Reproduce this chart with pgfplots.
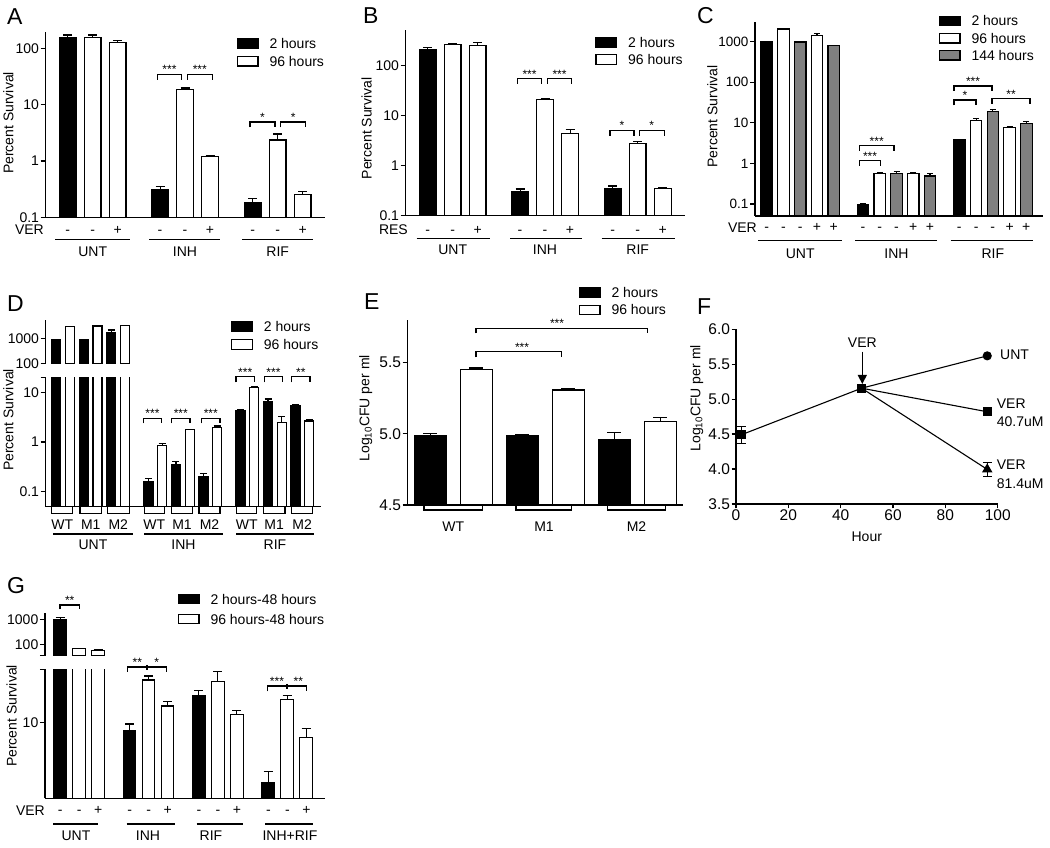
\documentclass[border=0pt]{standalone}
\usepackage{fontspec}
\setmainfont{Liberation Sans}
\usepackage{pgfplots}
\pgfplotsset{compat=1.18}
\usetikzlibrary{arrows.meta}
\definecolor{gry}{RGB}{128,128,128}

\pgfplotsset{
  panel/.style={anchor=south west, scale only axis,
    axis x line*=bottom, axis y line*=left,
    axis line style={line width=1.4pt,-},
    xtick=\empty, tick align=outside, major tick length=5pt,
    tick style={line width=1.3pt,black},
    yticklabel style={font=\fontsize{14}{16}\selectfont, inner sep=1.5pt},
    yminorticks=false, xminorticks=false},
  eb/.style={error bars/y dir=plus, error bars/y explicit,
    error bars/error bar style={line width=1.2pt,black},
    error bars/error mark options={rotate=90, line width=1.2pt, black, mark size=#1}},
  eb/.default=4.5pt,
  bk/.style={ybar, bar shift=0pt, draw=black, line width=1.2pt, fill=black},
  wt/.style={ybar, bar shift=0pt, draw=black, line width=1.2pt, fill=white},
  gr/.style={ybar, bar shift=0pt, draw=black, line width=1.2pt, fill=gry},
}

% annotation helpers, pixel coordinates (y down)
\newcommand{\brk}[4]{\draw[line width=1.1pt] (#1,#4)--(#1,#3)--(#2,#3)--(#2,#4);}
\newcommand{\ubrk}[4]{\draw[line width=1.1pt] (#1,#3)--(#1,#4)--(#2,#4)--(#2,#3);}
\newcommand{\sig}[3]{\node[anchor=base,inner sep=0,font=\fontsize{12}{12}\selectfont] at (#1,#2-0.5) {#3};}
\newcommand{\leg}[4]{\draw[line width=1.1pt,fill=#3] (#1,#2-4.75) rectangle (#1+20.7,#2+4.75);
  \node[anchor=base west,inner sep=0] at (#1+32,#2+5) {#4};}
\newcommand{\lab}[3]{\node[anchor=base,inner sep=0] at (#1,#2) {#3};}
\newcommand{\hl}[3]{\draw[line width=1.1pt] (#1,#3)--(#2,#3);}
\newcommand{\letter}[3]{\node[anchor=base west,inner sep=0,font=\fontsize{23}{23}\selectfont] at (#1,#2) {#3};}

\begin{document}
\begin{tikzpicture}[font=\fontsize{14}{16}\selectfont]
\path[use as bounding box] (0pt,0pt) rectangle (1050pt,848pt);

% ---------------- A
\begin{axis}[panel, ymode=log, log origin=infty, at={(45.7pt,630.7pt)}, width=279.3pt, height=185.6pt,
  xmin=-0.88, xmax=10.29, ymin=0.1, ymax=197,
  ytick={0.1,1,10,100}, yticklabels={0.1,1,10,100}, bar width=16.7pt]
\addplot[bk, eb] table[x=x,y=y,y error plus=e] {
x y e
0 157 15
3.7 0.314 0.036
7.4 0.18 0.034
};
\addplot[wt, eb] table[x=x,y=y,y error plus=e] {
x y e
1 157 15
2 128 8
4.7 18.5 1.2
5.7 1.21 0.04
8.4 2.36 0.64
9.4 0.256 0.029
};
\end{axis}

% ---------------- B
\begin{axis}[panel, ymode=log, log origin=infty, at={(405.7pt,632.3pt)}, width=279.3pt, height=185.7pt,
  xmin=-0.88, xmax=10.29, ymin=0.1, ymax=509,
  ytick={0.1,1,10,100}, yticklabels={0.1,1,10,100}, bar width=16.7pt]
\addplot[bk, eb] table[x=x,y=y,y error plus=e] {
x y e
0 202 22
3.7 0.30 0.04
7.4 0.346 0.044
};
\addplot[wt, eb] table[x=x,y=y,y error plus=e] {
x y e
1 262 6
2 254 34
4.7 21.1 0.9
5.7 4.43 0.77
8.4 2.80 0.27
9.4 0.346 0.024
};
\end{axis}

% ---------------- C
\begin{axis}[panel, ymode=log, log origin=infty, at={(755pt,632pt)}, width=288.3pt, height=194.3pt,
  xmin=-0.70, xmax=16.51, ymin=0.0506, ymax=3090,
  ytick={0.1,1,10,100,1000}, yticklabels={0.1,1,10,100,1000}, bar width=11.5pt,
  yticklabel style={font=\fontsize{13.5}{15}\selectfont}]
\addplot[bk, eb=3pt] table[x=x,y=y,y error plus=e] {
x y e
0 980 0
5.75 0.094 0.006
11.5 3.75 0.1
};
\addplot[wt, eb=3pt] table[x=x,y=y,y error plus=e] {
x y e
1 2050 0
3 1440 170
6.75 0.57 0.03
8.75 0.57 0.02
12.5 11.2 1.3
14.5 7.7 0.2
};
\addplot[gr, eb=3pt] table[x=x,y=y,y error plus=e] {
x y e
2 980 0
4 800 0
7.75 0.57 0.065
9.75 0.487 0.08
13.5 18.7 3.0
15.5 9.7 0.9
};
\end{axis}

% ---------------- D upper
\begin{axis}[panel, ymode=log, log origin=infty, axis x line=none, at={(45.7pt,484.7pt)}, width=275pt, height=43.3pt,
  xmin=-0.77, xmax=19.23, ymin=100, ymax=5400,
  ytick={100,1000}, yticklabels={100,1000}, bar width=9pt]
\addplot[bk, eb=3.5pt] table[x=x,y=y,y error plus=e] {
x y e
0 855 0
2 910 0
4 1670 480
};
\addplot[wt, eb=3.5pt] table[x=x,y=y,y error plus=e] {
x y e
1 2900 0
3 3100 0
5 3300 0
};
\end{axis}
% ---------------- D lower
\begin{axis}[panel, ymode=log, log origin=infty, at={(45.7pt,341.3pt)}, width=275pt, height=129.4pt,
  xmin=-0.77, xmax=19.23, ymin=0.05, ymax=20,
  ytick={0.1,1,10}, yticklabels={0.1,1,10},
  extra y ticks={20}, extra y tick labels={}, bar width=9pt]
\addplot[bk, eb=3.5pt] table[x=x,y=y,y error plus=e] {
x y e
0 855 0
2 910 0
4 1670 480
6.7 0.16 0.026
8.7 0.35 0.05
10.7 0.2 0.035
13.4 4.2 0.3
15.4 6.5 0.8
17.4 5.4 0.2
};
\addplot[wt, eb=3.5pt] table[x=x,y=y,y error plus=e] {
x y e
1 2900 0
3 3100 0
5 3300 0
7.7 0.86 0.065
9.7 1.77 0.03
11.7 1.97 0.13
14.4 12.6 0.2
16.4 2.5 0.7
18.4 2.65 0.15
};
\end{axis}

% ---------------- E
\begin{axis}[panel, at={(407.7pt,343pt)}, width=275.6pt, height=185pt,
  xmin=-0.49, xmax=5.5, ymin=4.5, ymax=5.8,
  ytick={4.5,5,5.5}, yticklabels={4.5,5.0,5.5}, bar width=31.7pt,
  yticklabel style={font=\fontsize{15.5}{17}\selectfont}]
\addplot[bk, eb=7pt] table[x=x,y=y,y error plus=e] {
x y e
0 4.986 0.014
2 4.988 0.010
4 4.962 0.047
};
\addplot[wt, eb=7pt] table[x=x,y=y,y error plus=e] {
x y e
1 5.453 0.009
3 5.308 0.007
5 5.087 0.030
};
\end{axis}

% ---------------- F
\begin{axis}[panel, at={(736pt,344pt)}, width=261.7pt, height=174.7pt,
  xmin=0, xmax=100, ymin=3.5, ymax=6.0, major tick length=4.3pt,
  xtick={0,20,40,60,80,100}, ytick={3.5,4,4.5,5,5.5,6},
  yticklabels={3.5,4.0,4.5,5.0,5.5,6.0}, xticklabels={0,20,40,60,80,100},
  yticklabel style={font=\fontsize{15.5}{17}\selectfont},
  xticklabel style={font=\fontsize{15.5}{17}\selectfont, inner sep=1.5pt}, clip=false]
\addplot[black, line width=1.1pt, mark=square*, mark size=3.8pt,
  error bars/y dir=both, error bars/y explicit, error bars/error bar style={line width=1.1pt},
  error bars/error mark options={rotate=90, line width=1.1pt, mark size=4.3pt}]
  coordinates {(2,4.49) +- (0,0.12) (48,5.157) +- (0,0)};
\addplot[black, line width=1.1pt, mark=*, mark size=4pt, mark indices={2}]
  coordinates {(48,5.157) (96,5.62)};
\addplot[black, line width=1.1pt, mark=square*, mark size=3.8pt, mark indices={2}]
  coordinates {(48,5.157) (96,4.82)};
\addplot[black, line width=1.1pt, mark=triangle*, mark size=5pt, mark indices={2},
  error bars/y dir=both, error bars/y explicit, error bars/error bar style={line width=1.1pt},
  error bars/error mark options={rotate=90, line width=1.1pt, mark size=4.3pt}]
  coordinates {(48,5.157) +- (0,0) (96,3.995) +- (0,0.105)};
\end{axis}

% ---------------- G upper
\begin{axis}[panel, ymode=log, log origin=infty, axis x line=none, at={(45pt,192.3pt)}, width=280pt, height=43pt,
  xmin=-0.8, xmax=13.94, ymin=35, ymax=1837,
  ytick={100,1000}, yticklabels={100,1000},
  extra y ticks={35}, extra y tick labels={}, bar width=12.7pt]
\addplot[bk, eb] table[x=x,y=y,y error plus=e] {
x y e
0 1000 200
};
\addplot[wt, eb] table[x=x,y=y,y error plus=e] {
x y e
1 69 0
2 56 3
};
\end{axis}
% ---------------- G lower
\begin{axis}[panel, ymode=log, log origin=infty, at={(45pt,49.7pt)}, width=280pt, height=129pt,
  xmin=-0.8, xmax=13.94, ymin=1, ymax=50,
  ytick={10}, yticklabels={10}, extra y ticks={50}, extra y tick labels={},
  bar width=12.7pt]
\addplot[bk, eb] table[x=x,y=y,y error plus=e] {
x y e
0 1000 200
3.65 7.68 1.82
7.3 22.5 3.7
10.95 1.6 0.67
};
\addplot[wt, eb] table[x=x,y=y,y error plus=e] {
x y e
1 69 0
2 56 3
4.65 36.2 4.7
5.65 16.4 2.3
8.3 34.8 12.4
9.3 12.8 1.5
11.95 20.1 2.4
12.95 6.34 2.06
};
\end{axis}

% ================= annotations (pixel coordinates)
\begin{scope}[x=1pt,y=-1pt,yshift=848pt]
% A
\letter{7}{25}{A}
\node[rotate=90] at (8.3,123) {Percent Survival};
\leg{237.3}{43.8}{black}{2 hours}
\leg{237.3}{61.3}{white}{96 hours}
\brk{157.3}{181.7}{74.3}{80}\sig{169.5}{74.3}{***}
\brk{187.3}{212.3}{74.3}{80}\sig{199.8}{74.3}{***}
\brk{250}{275}{122}{127.3}\sig{262.5}{122}{*}
\brk{280.7}{305.7}{122}{127.3}\sig{293.2}{122}{*}
\node[anchor=base east,inner sep=0] at (44,235) {VER};
\foreach \x/\s in {67.7/-,92.7/-,117.7/+,160/-,185/-,210/+,252.7/-,277.7/-,302.7/+}
  {\lab{\x}{234.5}{\s}}
\hl{55}{130}{239.3}\hl{149.3}{220}{239.3}\hl{242.3}{313.3}{239.3}
\lab{92.7}{256.7}{UNT}\lab{185}{256.7}{INH}\lab{277.7}{256.7}{RIF}
% B
\letter{363}{24}{B}
\node[rotate=90] at (366.7,128.3) {Percent Survival};
\leg{596}{42.3}{black}{2 hours}
\leg{596}{59.7}{white}{96 hours}
\brk{517.3}{541.7}{78.7}{84}\sig{529.5}{78.7}{***}
\brk{547.3}{571.7}{78.7}{84}\sig{559.5}{78.7}{***}
\brk{610}{634}{130.3}{135.7}\sig{622}{130.3}{*}
\brk{639.3}{664.3}{130.3}{135.7}\sig{651.8}{130.3}{*}
\node[anchor=base east,inner sep=0] at (408,235) {RES};
\foreach \x/\s in {427.7/-,452.7/-,477.7/+,520/-,545/-,570/+,612.7/-,637.7/-,662.7/+}
  {\lab{\x}{234.5}{\s}}
\hl{416.7}{490}{238.3}\hl{510}{581.7}{238.3}\hl{601.7}{675}{238.3}
\lab{452.7}{255}{UNT}\lab{545}{255}{INH}\lab{637.7}{255}{RIF}
% C
\letter{697}{24}{C}
\node[rotate=90] at (712.3,116.7) {Percent Survival};
\leg{939.3}{21}{black}{2 hours}
\leg{939.3}{38.3}{white}{96 hours}
\leg{939.3}{55.3}{gry}{144 hours}
\brk{859.3}{880.7}{160.7}{165.7}\sig{870}{160.7}{***}
\brk{859.3}{894}{145.7}{151}\sig{876.7}{145.7}{***}
\brk{954}{976}{100}{105.3}\sig{965}{100}{*}
\brk{954}{992}{86}{90.7}\sig{973}{86}{***}
\brk{992}{1030}{98.7}{104}\sig{1011}{98.7}{**}
\node[anchor=base east,inner sep=0] at (757,232.5) {VER};
\foreach \x/\s in {766.7/-,783.45/-,800.2/-,816.95/+,833.7/+,863/-,879.8/-,896.5/-,913.3/+,930/+,959.3/-,976.1/-,992.8/-,1009.6/+,1026.3/+}
  {\lab{\x}{232}{\s}}
\hl{758.3}{841.7}{240.7}\hl{855}{937.3}{240.7}\hl{950.7}{1033.3}{240.7}
\lab{800.2}{259}{UNT}\lab{896.5}{259}{INH}\lab{992.8}{259}{RIF}
% D
\letter{7}{312}{D}
\node[rotate=90] at (8.3,420) {Percent Survival};
\leg{231.7}{326.7}{black}{2 hours}
\leg{231.7}{344.7}{white}{96 hours}
\brk{143.3}{161.7}{418.3}{423.3}\sig{152.5}{418.3}{***}
\brk{171.7}{190}{418.3}{423.3}\sig{180.8}{418.3}{***}
\brk{201.7}{220}{418.3}{423.3}\sig{210.8}{418.3}{***}
\brk{236}{254.3}{376.7}{382.3}\sig{245.2}{376.7}{***}
\brk{264.3}{282.7}{376.7}{382.3}\sig{273.5}{376.7}{***}
\brk{291.7}{310}{376.7}{382.3}\sig{300.8}{376.7}{**}
\ubrk{51.7}{72.7}{506.7}{513.3}\ubrk{80}{101.7}{506.7}{513.3}\ubrk{107.3}{129.3}{506.7}{513.3}
\ubrk{144.3}{164.3}{506.7}{513.3}\ubrk{171.7}{192.3}{506.7}{513.3}\ubrk{199}{220}{506.7}{513.3}
\ubrk{236.7}{256.7}{506.7}{513.3}\ubrk{263.3}{285}{506.7}{513.3}\ubrk{291.7}{312.7}{506.7}{513.3}
\foreach \x/\s in {62.2/WT,90.8/M1,118.3/M2,154.3/WT,182/M1,209.5/M2,246.7/WT,274.2/M1,302.2/M2}
  {\lab{\x}{529.3}{\s}}
\hl{53.3}{132.7}{534}\hl{144.3}{222.7}{534}\hl{236}{314}{534}
\lab{93}{549.3}{UNT}\lab{183.5}{549.3}{INH}\lab{275}{549.3}{RIF}
% E
\letter{364}{310}{E}
\node[rotate=90] at (365.8,408.3) {Log\textsubscript{10}CFU per ml};
\leg{579.3}{292.8}{black}{2 hours}
\leg{579.3}{310}{white}{96 hours}
\brk{476}{647.3}{328.3}{333.3}\sig{557}{328.3}{***}
\brk{476}{561.3}{351.7}{357.3}\sig{522}{351.7}{***}
\ubrk{424}{482.7}{505}{510}\ubrk{516}{571.7}{505}{510}\ubrk{607.3}{665.7}{505}{510}
\lab{453.3}{531.7}{WT}\lab{544}{531.7}{M1}\lab{636.5}{531.7}{M2}
% F
\letter{697}{315}{F}
\node[rotate=90] at (696.7,398.3) {Log\textsubscript{10}CFU per ml};
\draw[line width=1.1pt,-{Triangle[width=9pt,length=9pt]}] (862.3,351.7)--(862.3,384);
\lab{862.3}{347.7}{VER}
\node[anchor=base west,inner sep=0] at (1000,360) {UNT};
\node[anchor=base west,inner sep=0] at (996.7,408.3) {VER};
\node[anchor=base west,inner sep=0] at (996.7,426.7) {40.7uM};
\node[anchor=base west,inner sep=0] at (996.7,470) {VER};
\node[anchor=base west,inner sep=0] at (996.7,488.3) {81.4uM};
\lab{866.8}{541.7}{Hour}
% G
\letter{7}{594}{G}
\node[rotate=90] at (11.7,716) {Percent Survival};
\leg{178.3}{599.2}{black}{2 hours-48 hours}
\leg{178.3}{619.2}{white}{96 hours-48 hours}
\brk{60}{79.3}{605}{609.3}\sig{69.7}{605}{**}
\brk{127.3}{166.7}{667}{672}\draw[line width=2.2pt] (146.7,665)--(146.7,670.5);
\sig{137.3}{667}{**}\sig{156.7}{667}{*}
\brk{267.5}{306.7}{686}{691.3}\draw[line width=2.2pt] (287,684)--(287,689.5);
\sig{277}{686}{***}\sig{298.3}{686}{**}
\node[anchor=base east,inner sep=0] at (45,815.5) {VER};
\foreach \x/\s in {60.3/-,79.3/-,98.3/+,129.7/-,148.7/-,167.7/+,199/-,218/-,237/+,268.4/-,287.4/-,306.4/+}
  {\lab{\x}{815}{\s}}
\hl{53.3}{98.3}{824}\hl{126.7}{175}{824}\hl{196.7}{242.7}{824}\hl{265}{313.3}{824}
\lab{76}{840.7}{UNT}\lab{148}{840.7}{INH}\lab{211}{840.7}{RIF}\lab{290}{840.7}{INH+RIF}
\end{scope}
\end{tikzpicture}
\end{document}
